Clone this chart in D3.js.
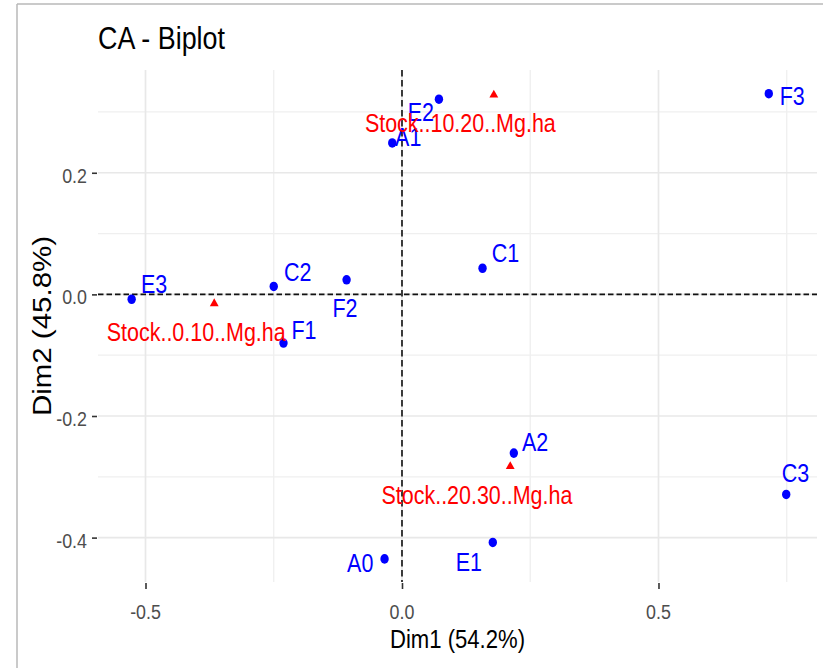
<!DOCTYPE html>
<html>
<head>
<meta charset="utf-8">
<script src="https://cdn.jsdelivr.net/npm/d3@7"></script>
<style>
  html, body { margin: 0; padding: 0; background: #fff; }
  svg { display: block; font-family: "Liberation Sans", Arial, sans-serif; }
</style>
</head>
<body>
<svg id="chart" width="823" height="668"></svg>
<script>
// Row points (blue)
const rowNames = ["F3", "E2", "A1", "C1", "E3", "C2", "F2", "F1", "A2", "C3", "E1", "A0"];
const rowDim1  = [0.715, 0.072, -0.019, 0.157, -0.527, -0.250, -0.108, -0.231, 0.218, 0.749, 0.177, -0.034];
const rowDim2  = [0.330, 0.321, 0.249, 0.043, -0.008, 0.013, 0.024, -0.080, -0.261, -0.329, -0.408, -0.435];

// Column points (red)
const colNames = ["Stock..0.10..Mg.ha", "Stock..10.20..Mg.ha", "Stock..20.30..Mg.ha"];
const colDim1  = [-0.366, 0.179, 0.211];
const colDim2  = [-0.015, 0.328, -0.283];

// Axis ticks
const xTicks = [-0.5, 0.0, 0.5];
const yTicks = [-0.4, -0.2, 0.0, 0.2];
const xMinor = [-0.25, 0.25, 0.75];
const yMinor = [-0.3, -0.1, 0.1, 0.3];

const titleText = "CA - Biplot";
const xTitle = "Dim1 (54.2%)";
const yTitle = "Dim2 (45.8%)";

// Repelled label offsets (px) from each point
const rowNudge = [[23.5, 1.5], [-18, 12], [16, -6], [23, -16], [22.5, -15.5], [24, -14.6],
                  [-1.7, 28], [20.5, -13.3], [21.3, -11.7], [9.3, -21.8], [-24, 19], [-24.3, 3.3]];
const colNudge = [[-18, 28], [-33.5, 28], [-33.3, 28.3]];

const svg = d3.select("#chart");
const SQ = 0.85;   // horizontal text compression
const LSQ = 0.81;  // compression for point labels

const panel = { left: 98, right: 817, top: 70, bottom: 582 };
const x = d3.scaleLinear().domain([-0.5926, 0.809]).range([panel.left, panel.right]);
const y = d3.scaleLinear().domain([-0.473, 0.369]).range([panel.bottom, panel.top]);

// Frame lines
svg.append("line").attr("x1", 17).attr("x2", 17).attr("y1", 4).attr("y2", 668)
  .attr("stroke", "#b8b8b8").attr("stroke-width", 1.5);
svg.append("line").attr("x1", 17).attr("x2", 823).attr("y1", 4).attr("y2", 4)
  .attr("stroke", "#b8b8b8").attr("stroke-width", 1.5);

// Grid
const grid = svg.append("g");
grid.selectAll(".vmin").data(xMinor).join("line")
  .attr("x1", d => x(d)).attr("x2", d => x(d)).attr("y1", panel.top).attr("y2", panel.bottom)
  .attr("stroke", "#efefef").attr("stroke-width", 1.3);
grid.selectAll(".hmin").data(yMinor).join("line")
  .attr("x1", panel.left).attr("x2", panel.right).attr("y1", d => y(d)).attr("y2", d => y(d))
  .attr("stroke", "#efefef").attr("stroke-width", 1.3);
grid.selectAll(".vmaj").data(xTicks).join("line")
  .attr("x1", d => x(d)).attr("x2", d => x(d)).attr("y1", panel.top).attr("y2", panel.bottom)
  .attr("stroke", "#e8e8e8").attr("stroke-width", 1.7);
grid.selectAll(".hmaj").data(yTicks).join("line")
  .attr("x1", panel.left).attr("x2", panel.right).attr("y1", d => y(d)).attr("y2", d => y(d))
  .attr("stroke", "#e8e8e8").attr("stroke-width", 1.7);

// Axes with D3 tick marks, labels drawn separately for compressed text
const xAxis = d3.axisBottom(x).tickValues(xTicks).tickSize(6).tickSizeOuter(0).tickFormat("");
const yAxis = d3.axisLeft(y).tickValues(yTicks).tickSize(5).tickSizeOuter(0).tickFormat("");
const gx = svg.append("g").attr("transform", `translate(0,${panel.bottom + 1})`).call(xAxis);
const gy = svg.append("g").attr("transform", `translate(${panel.left - 1},0)`).call(yAxis);
[gx, gy].forEach(g => {
  g.select(".domain").remove();
  g.selectAll(".tick line").attr("stroke", "#333").attr("stroke-width", 1.6);
});

// Plain hyphen-minus for negative tick labels
const fmt = v => d3.format(".1f")(v).replace("\u2212", "-");
svg.append("g").selectAll("text").data(xTicks).join("text")
  .attr("transform", d => `translate(${x(d)},619) scale(${SQ},1)`)
  .attr("text-anchor", "middle").attr("font-size", 21).attr("fill", "#4d4d4d")
  .text(d => fmt(d));
svg.append("g").selectAll("text").data(yTicks).join("text")
  .attr("transform", d => `translate(87,${y(d) + 10}) scale(${SQ},1)`)
  .attr("text-anchor", "end").attr("font-size", 21).attr("fill", "#4d4d4d")
  .text(d => fmt(d));

// Reference lines through the origin
svg.append("line").attr("x1", panel.left).attr("x2", panel.right)
  .attr("y1", y(0)).attr("y2", y(0))
  .attr("stroke", "#111").attr("stroke-width", 1.6).attr("stroke-dasharray", "5.5,3");
svg.append("line").attr("x1", x(0)).attr("x2", x(0))
  .attr("y1", panel.top).attr("y2", panel.bottom)
  .attr("stroke", "#111").attr("stroke-width", 1.6).attr("stroke-dasharray", "6.5,3.5");

// Row points and labels
const rows = rowNames.map((n, i) => ({ name: n, d1: rowDim1[i], d2: rowDim2[i], nudge: rowNudge[i] }));
const cols = colNames.map((n, i) => ({ name: n, d1: colDim1[i], d2: colDim2[i], nudge: colNudge[i] }));

svg.append("g").selectAll("ellipse").data(rows).join("ellipse")
  .attr("cx", d => x(d.d1)).attr("cy", d => y(d.d2))
  .attr("rx", 4.2).attr("ry", 4.8).attr("fill", "#0000ff");
svg.append("g").selectAll("text").data(rows).join("text")
  .attr("transform", d => `translate(${x(d.d1) + d.nudge[0]},${y(d.d2) + d.nudge[1] + 9.5}) scale(${LSQ},1)`)
  .attr("text-anchor", "middle").attr("font-size", 26.5).attr("fill", "#0000ff")
  .text(d => d.name);

// Column points and labels
svg.append("g").selectAll("path").data(cols).join("path")
  .attr("d", d3.symbol(d3.symbolTriangle, 40))
  .attr("transform", d => `translate(${x(d.d1)},${y(d.d2)}) scale(0.92,0.95)`)
  .attr("fill", "#ff0000");
svg.append("g").selectAll("text").data(cols).join("text")
  .attr("transform", d => `translate(${x(d.d1) + d.nudge[0]},${y(d.d2) + d.nudge[1] + 9.5}) scale(${LSQ},1)`)
  .attr("text-anchor", "middle").attr("font-size", 26.5).attr("fill", "#ff0000")
  .text(d => d.name);

// Titles
svg.append("text").attr("transform", `translate(98,49) scale(0.84,1)`)
  .attr("font-size", 32).attr("fill", "#000").text(titleText);
svg.append("text").attr("transform", `translate(${(panel.left + panel.right) / 2},648) scale(${SQ},1)`)
  .attr("text-anchor", "middle").attr("font-size", 26).attr("fill", "#000").text(xTitle);
svg.append("text").attr("transform", `translate(51,${(panel.top + panel.bottom) / 2}) scale(${SQ},1) rotate(-90)`)
  .attr("text-anchor", "middle").attr("font-size", 29.5).attr("fill", "#000").text(yTitle);
</script>
</body>
</html>
